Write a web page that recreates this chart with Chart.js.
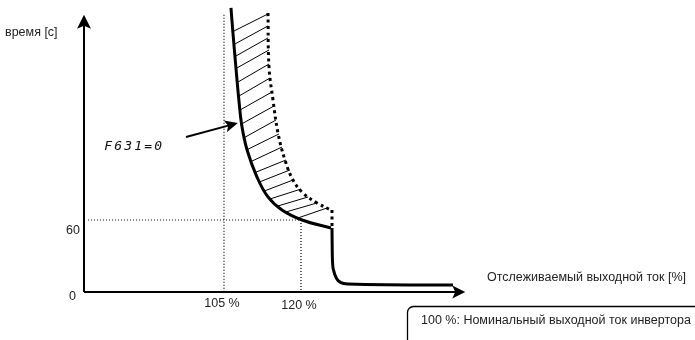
<!DOCTYPE html>
<html lang="ru">
<head>
    <meta charset="UTF-8">
    <title>Время - ток</title>
    <script src="https://cdn.jsdelivr.net/npm/chart.js@4.4.1/dist/chart.umd.min.js"></script>
    <style>
        body {
            margin: 0;
            background: #fff;
        }
        #chart {
            display: block;
        }
    </style>
</head>
<body>
    <canvas id="chart" width="695" height="340"></canvas>

    <script>
        // axis texts and ticks
        var yTitle = 'время [с]';
        var xTitle = 'Отслеживаемый выходной ток [%]';
        var noteText = '100 %: Номинальный выходной ток инвертора';
        var curveLabel = 'F631=0';
        var xTicks = [105, 120];
        var xTickLabels = ['105 %', '120 %'];
        var yTicks = [0, 60];
        var yTickLabels = ['0', '60'];

        // main curve (F631=0), current % vs seconds
        var solidX = [106.36, 106.75, 107.30, 107.90, 108.45, 109.50, 111.43, 113.57, 116.30, 120.19, 125.84];
        var solidY = [236.7, 215.8, 188.3, 160.0, 139.2, 118.3, 95.8, 79.2, 68.3, 60.0, 53.3];

        // drop after the curve and the low tail
        var dropX = [126.04, 126.10, 126.35, 126.90, 127.70, 129.20, 149.61];
        var dropY = [53.3, 30.0, 18.0, 11.5, 8.0, 6.7, 5.8];

        // dotted upper curve
        var dottedX = [113.57, 113.77, 114.55, 115.52, 116.88, 118.44, 120.39, 123.12, 125.84];
        var dottedY = [232.5, 187.5, 160.0, 132.5, 110.0, 93.3, 82.5, 74.2, 68.3];
        var stepX = [126.04, 126.04];
        var stepY = [68.3, 53.3];

        // hatching between the two curves
        var hatchFromX = [106.95, 107.14, 107.34, 107.53, 107.73, 107.92, 108.15, 108.40, 108.80, 109.35, 110.06, 110.84, 111.92, 112.89, 113.96, 115.52, 117.08, 119.42];
        var hatchFromY = [217.5, 206.7, 196.7, 186.7, 175.0, 163.3, 151.7, 140.0, 128.3, 118.3, 108.3, 99.2, 91.7, 84.2, 77.5, 71.7, 66.7, 61.7];
        var hatchToX = [113.57, 113.57, 113.57, 113.77, 113.77, 113.96, 114.35, 114.74, 115.13, 115.71, 116.30, 117.08, 117.86, 118.44, 120.00, 121.40, 123.12, 125.06];
        var hatchToY = [231.7, 221.7, 211.7, 201.7, 190.0, 178.3, 166.7, 155.0, 143.3, 131.7, 120.8, 110.0, 101.7, 93.3, 85.8, 79.2, 74.2, 70.0];

        // guide lines
        var guide105 = [231, 0];
        var guide120 = [60, 0];
        var guide60X = [78.5, 120];

        // where the pointer to the curve goes
        var pointerTail = {x: 97.6, y: 129.2};
        var pointerTip = {x: 107.7, y: 140.8};
        var labelAt = {x: 87.3, y: 120.8};

        function pts(xs, ys) {
            return xs.map(function (x, i) { return {x: x, y: ys[i]}; });
        }

        var hatchData = [];
        hatchFromX.forEach(function (x, i) {
            hatchData.push({x: x, y: hatchFromY[i]});
            hatchData.push({x: hatchToX[i], y: hatchToY[i]});
            hatchData.push({x: hatchToX[i], y: null});
        });

        var FONT = '12.5px "Liberation Sans", Arial, sans-serif';

        function arrowHead(ctx, x, y, dx, dy, len, half) {
            var px = -dy, py = dx;
            ctx.beginPath();
            ctx.moveTo(x, y);
            ctx.lineTo(x - dx * len + px * half, y - dy * len + py * half);
            ctx.lineTo(x - dx * (len - 3), y - dy * (len - 3));
            ctx.lineTo(x - dx * len - px * half, y - dy * len - py * half);
            ctx.closePath();
            ctx.fill();
        }

        var diagram = {
            id: 'diagram',
            afterDraw: function (chart) {
                var ctx = chart.ctx;
                var xs = chart.scales.x, ys = chart.scales.y;
                var L = xs.getPixelForValue(xs.min);
                var B = ys.getPixelForValue(0);
                ctx.save();
                ctx.strokeStyle = '#000';
                ctx.fillStyle = '#000';

                // axes with arrows
                var yTip = ys.getPixelForValue(231);
                var xTip = xs.getPixelForValue(152);
                ctx.lineWidth = 2;
                ctx.beginPath();
                ctx.moveTo(L, B);
                ctx.lineTo(L, yTip + 8);
                ctx.moveTo(L, B);
                ctx.lineTo(xTip - 8, B);
                ctx.stroke();
                arrowHead(ctx, L, yTip, 0, -1, 14, 7);
                arrowHead(ctx, xTip, B, 1, 0, 13, 6.5);

                // tick labels
                ctx.font = FONT;
                ctx.fillStyle = '#222';
                ctx.textBaseline = 'middle';
                ctx.textAlign = 'right';
                yTicks.forEach(function (v, i) {
                    var py = ys.getPixelForValue(v);
                    if (v === 0) {
                        ctx.fillText(yTickLabels[i], L - 8, py + 5);
                    } else {
                        ctx.fillText(yTickLabels[i], L - 4, py + 11);
                    }
                });
                ctx.textAlign = 'center';
                xTicks.forEach(function (v, i) {
                    ctx.fillText(xTickLabels[i], xs.getPixelForValue(v) - 2, B + 12 + i * 2);
                });

                // axis titles
                ctx.textAlign = 'left';
                ctx.fillText(yTitle, 5, 33);
                ctx.textAlign = 'right';
                ctx.fillText(xTitle, 686, 278);

                // note box
                ctx.lineWidth = 1.3;
                ctx.strokeStyle = '#000';
                ctx.beginPath();
                ctx.roundRect(407.5, 306.5, 300, 50, 6);
                ctx.stroke();
                ctx.textAlign = 'left';
                ctx.fillText(noteText, 421, 321);

                // pointer to the curve
                var tx = xs.getPixelForValue(pointerTail.x), ty = ys.getPixelForValue(pointerTail.y);
                var hx = xs.getPixelForValue(pointerTip.x), hy = ys.getPixelForValue(pointerTip.y);
                var d = Math.hypot(hx - tx, hy - ty);
                ctx.fillStyle = '#000';
                ctx.lineWidth = 2;
                ctx.beginPath();
                ctx.moveTo(tx, ty);
                ctx.lineTo(hx - (hx - tx) / d * 8, hy - (hy - ty) / d * 8);
                ctx.stroke();
                arrowHead(ctx, hx, hy, (hx - tx) / d, (hy - ty) / d, 13, 6);

                // segment-style parameter label
                var lx = xs.getPixelForValue(labelAt.x), ly = ys.getPixelForValue(labelAt.y);
                ctx.font = 'italic 13px "DejaVu Sans Mono", monospace';
                ctx.fillStyle = '#111';
                ctx.textAlign = 'center';
                ctx.textBaseline = 'middle';
                var step = 10;
                var chars = curveLabel.split('');
                chars.forEach(function (c, i) {
                    ctx.fillText(c, lx + (i - (chars.length - 1) / 2) * step, ly);
                });
                ctx.restore();
            }
        };

        var dotted = {
            borderColor: '#000',
            borderWidth: 1.2,
            borderDash: [1, 2],
            tension: 0,
            pointRadius: 0
        };

        new Chart(document.getElementById('chart'), {
            type: 'line',
            data: {
                datasets: [
                    Object.assign({data: pts([105, 105], guide105)}, dotted),
                    Object.assign({data: pts([120, 120], guide120)}, dotted),
                    Object.assign({data: pts(guide60X, [60, 60])}, dotted),
                    {
                        data: hatchData,
                        borderColor: '#000',
                        borderWidth: 1,
                        tension: 0,
                        spanGaps: false,
                        pointRadius: 0
                    },
                    {
                        data: pts(dottedX, dottedY),
                        borderColor: '#000',
                        borderWidth: 3,
                        borderDash: [3, 3.5],
                        tension: 0.4,
                        pointRadius: 0
                    },
                    {
                        data: pts(stepX, stepY),
                        borderColor: '#000',
                        borderWidth: 3,
                        borderDash: [3, 3.5],
                        tension: 0,
                        pointRadius: 0
                    },
                    {
                        data: pts(solidX, solidY),
                        borderColor: '#000',
                        borderWidth: 3,
                        tension: 0.4,
                        pointRadius: 0
                    },
                    {
                        data: pts(dropX, dropY),
                        borderColor: '#000',
                        borderWidth: 3,
                        cubicInterpolationMode: 'monotone',
                        pointRadius: 0
                    }
                ]
            },
            options: {
                responsive: false,
                animation: false,
                devicePixelRatio: 1,
                layout: {
                    padding: {left: 84, right: 230, top: 5, bottom: 48}
                },
                plugins: {
                    legend: {display: false},
                    tooltip: {enabled: false}
                },
                scales: {
                    x: {type: 'linear', min: 77.73, max: 151.95, display: false},
                    y: {type: 'linear', min: 0, max: 239.17, display: false}
                }
            },
            plugins: [diagram]
        });
    </script>
</body>
</html>
